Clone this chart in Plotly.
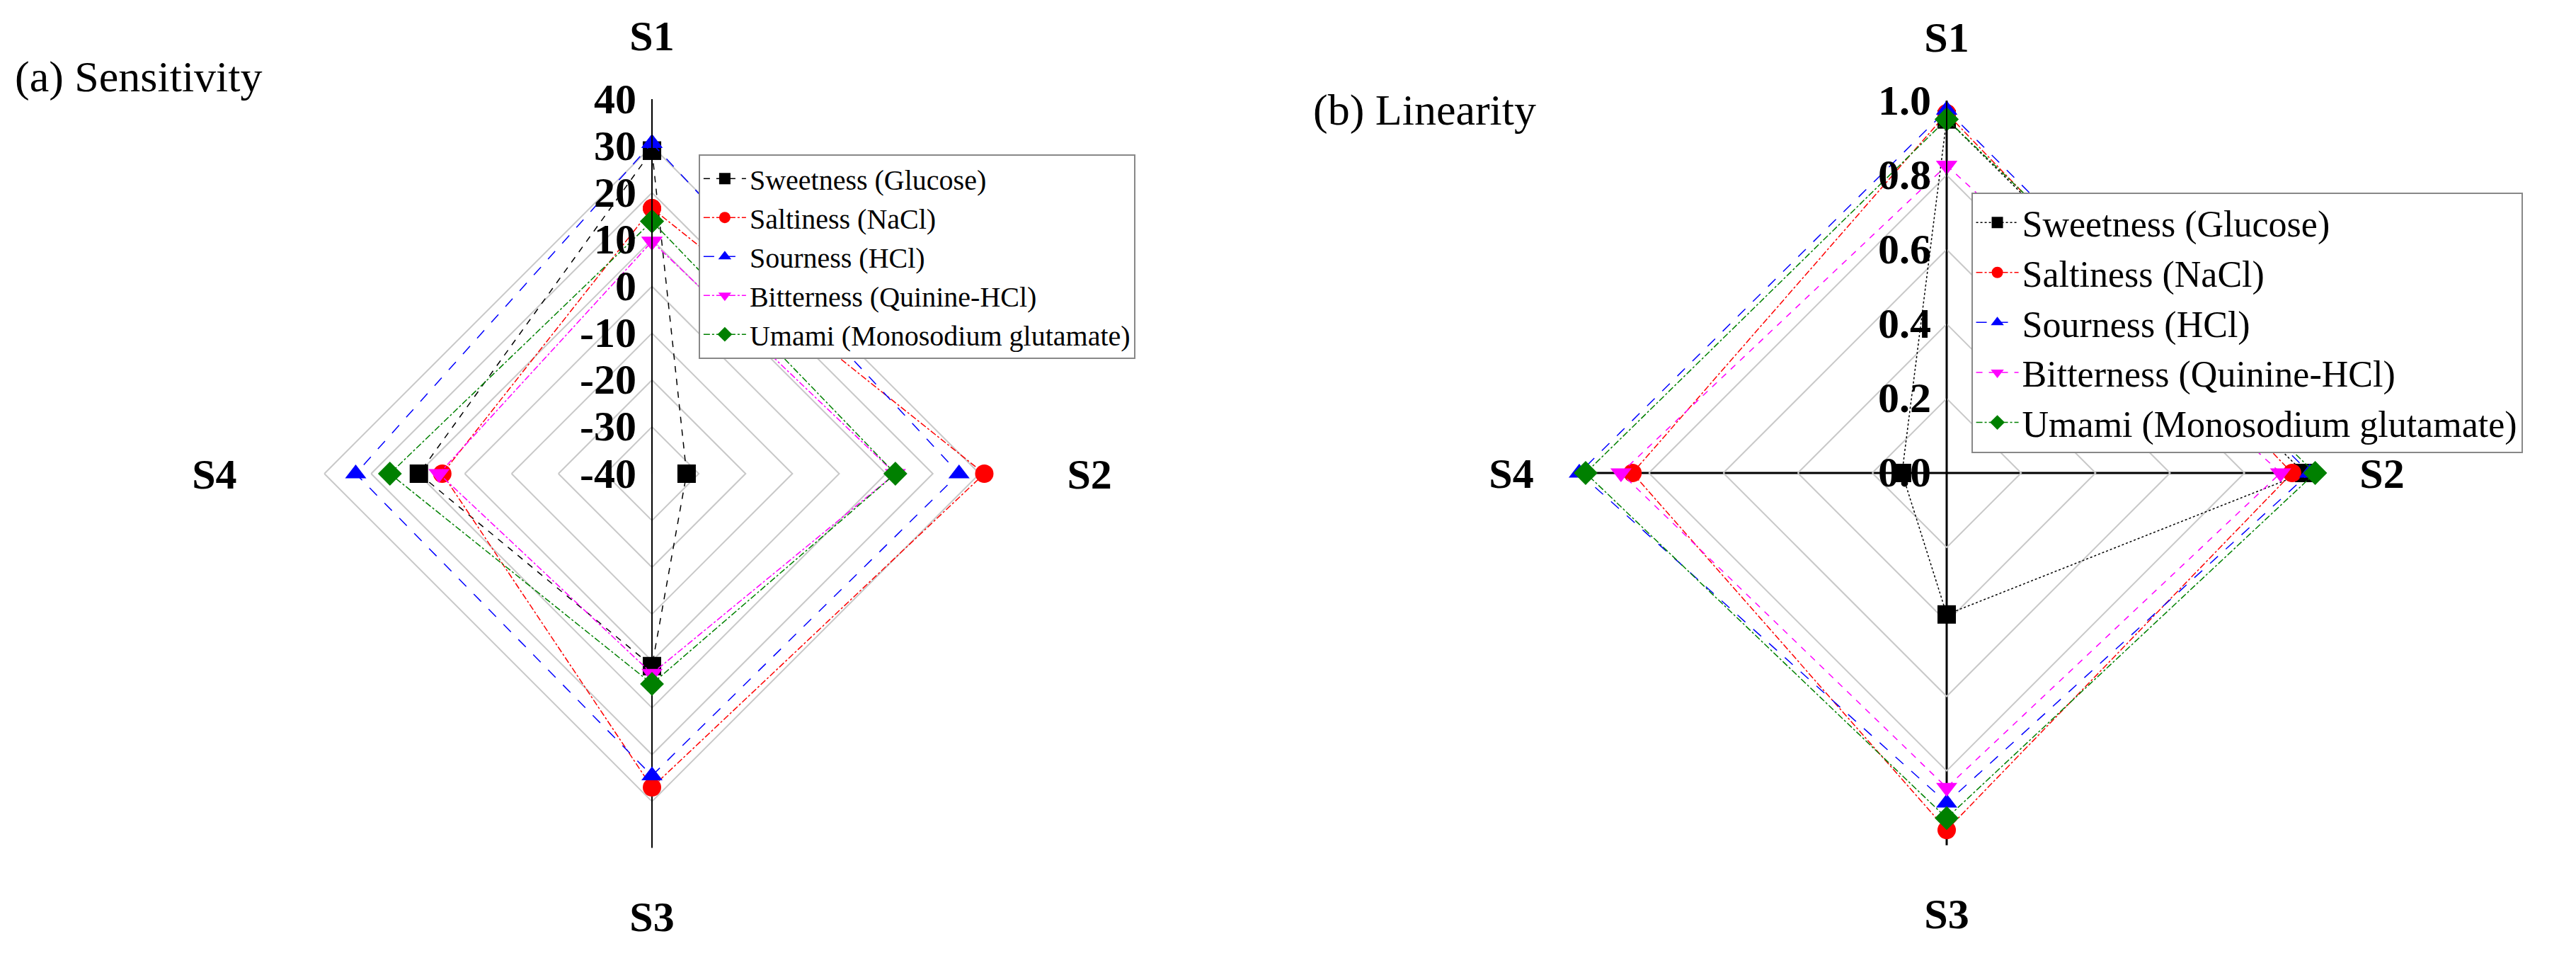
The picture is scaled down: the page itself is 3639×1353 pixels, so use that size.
import plotly.graph_objects as go

# ---------------- data ----------------
sensors = ["S1", "S2", "S3", "S4"]
series_names = ["Sweetness (Glucose)", "Saltiness (NaCl)", "Sourness (HCl)",
                "Bitterness (Quinine-HCl)", "Umami (Monosodium glutamate)"]

# (a) Sensitivity, values for S1..S4
sens_sweet = [29.0, -32.6, 1.1, 9.8]
sens_salt = [16.7, 31.0, 27.0, 4.8]
sens_sour = [30.6, 25.6, 24.5, 23.3]
sens_bitter = [9.6, 12.0, 2.7, 5.5]
sens_umami = [13.9, 12.0, 4.9, 16.0]

# (b) Linearity, values for S1..S4
lin_sweet = [0.95, 0.96, 0.38, 0.12]
lin_salt = [0.966, 0.928, 0.959, 0.844]
lin_sour = [0.975, 0.975, 0.886, 0.987]
lin_bitter = [0.826, 0.897, 0.845, 0.875]
lin_umami = [0.95, 0.99, 0.927, 0.97]

sens_ticks = [-40, -30, -20, -10, 0, 10, 20, 30, 40]
sens_ticktext = ["-40", "-30", "-20", "-10", "0", "10", "20", "30", "40"]
lin_ticks = [0.0, 0.2, 0.4, 0.6, 0.8, 1.0]
lin_ticktext = ["0.0", "0.2", "0.4", "0.6", "0.8", "1.0"]

# ---------------- styles ----------------
colors = ["#000000", "#ff0000", "#0000ff", "#ff00ff", "#008000"]
symbols = ["square", "circle", "triangle-up", "triangle-down", "diamond"]
dashes_a = ["dash", "dashdot", "longdash", "dashdot", "dashdot"]
dashes_b = ["dot", "dashdot", "longdash", "dash", "dashdot"]
FONT = "Liberation Serif"

fig = go.Figure()


def close(v):
    return list(v) + [v[0]]


sens_data = [sens_sweet, sens_salt, sens_sour, sens_bitter, sens_umami]
lin_data = [lin_sweet, lin_salt, lin_sour, lin_bitter, lin_umami]

# axis spine for panel (a): vertical line through S1 and S3
fig.add_trace(go.Scatterpolar(
    r=[sens_ticks[-1], sens_ticks[0], sens_ticks[-1]], theta=["S1", "S1", "S3"],
    mode="lines", line=dict(color="black", width=2), showlegend=False,
    hoverinfo="skip", subplot="polar", cliponaxis=True))

for i, name in enumerate(series_names):
    fig.add_trace(go.Scatterpolar(
        r=close(sens_data[i]), theta=close(sensors), name=name,
        mode="lines+markers", subplot="polar", legend="legend",
        cliponaxis=True,
        line=dict(color=colors[i], width=1.5, dash=dashes_a[i]),
        marker=dict(symbol=symbols[i], size=26, color=colors[i])))

for i, name in enumerate(series_names):
    fig.add_trace(go.Scatterpolar(
        r=close(lin_data[i]), theta=close(sensors), name=name,
        mode="lines+markers", subplot="polar2", legend="legend2",
        cliponaxis=False,
        line=dict(color=colors[i], width=1.5, dash=dashes_b[i]),
        marker=dict(symbol=symbols[i], size=26, color=colors[i])))

common_ang = dict(
    rotation=90, direction="clockwise", type="category",
    categoryarray=sensors, showline=False,
    ticks="outside", ticklen=45, tickcolor="rgba(0,0,0,0)",
    tickfont=dict(family=FONT, size=60, color="black", weight="bold"),
)

fig.update_layout(
    width=3639, height=1353,
    paper_bgcolor="white", plot_bgcolor="white",
    margin=dict(l=0, r=0, t=0, b=0),
    font=dict(family=FONT, color="black"),
    polar=dict(
        domain=dict(x=[0.1055, 0.3963], y=[0.1205, 0.9024]),
        bgcolor="white", gridshape="linear",
        angularaxis=dict(showgrid=False, **common_ang),
        radialaxis=dict(
            range=[sens_ticks[0], sens_ticks[-1]], tickvals=sens_ticks,
            ticktext=sens_ticktext, angle=90, tickangle=90,
            side="counterclockwise", showline=True, linecolor="black",
            linewidth=2, showgrid=True, gridcolor="#c8c8c8", gridwidth=1.5,
            ticks="",
            tickfont=dict(family=FONT, size=60, color="black", weight="bold")),
    ),
    polar2=dict(
        domain=dict(x=[0.609, 0.898], y=[0.1234, 0.901]),
        bgcolor="white", gridshape="linear",
        angularaxis=dict(showgrid=True, gridcolor="black", gridwidth=2.5,
                         **common_ang),
        radialaxis=dict(
            range=[lin_ticks[0], lin_ticks[-1]], tickvals=lin_ticks,
            ticktext=lin_ticktext, angle=90, tickangle=90,
            side="counterclockwise", showline=True, linecolor="black",
            linewidth=2, showgrid=True, gridcolor="#c8c8c8", gridwidth=1.5,
            ticks="",
            tickfont=dict(family=FONT, size=60, color="black", weight="bold")),
    ),
    legend=dict(
        x=0.269, y=0.845, xanchor="left", yanchor="top",
        bgcolor="white", bordercolor="#888888", borderwidth=2,
        font=dict(family=FONT, size=40, color="black"), itemwidth=60,
    ),
    legend2=dict(
        x=0.763, y=0.805, xanchor="left", yanchor="top",
        bgcolor="white", bordercolor="#888888", borderwidth=2,
        font=dict(family=FONT, size=52, color="black"), itemwidth=60,
    ),
    annotations=[
        dict(text="(a) Sensitivity", x=0.003, y=0.926, xref="paper",
             yref="paper", xanchor="left", yanchor="middle", showarrow=False,
             font=dict(family=FONT, size=62, color="black")),
        dict(text="(b) Linearity", x=0.507, y=0.891, xref="paper",
             yref="paper", xanchor="left", yanchor="middle", showarrow=False,
             font=dict(family=FONT, size=62, color="black")),
    ],
)

fig.write_html("out.html")
